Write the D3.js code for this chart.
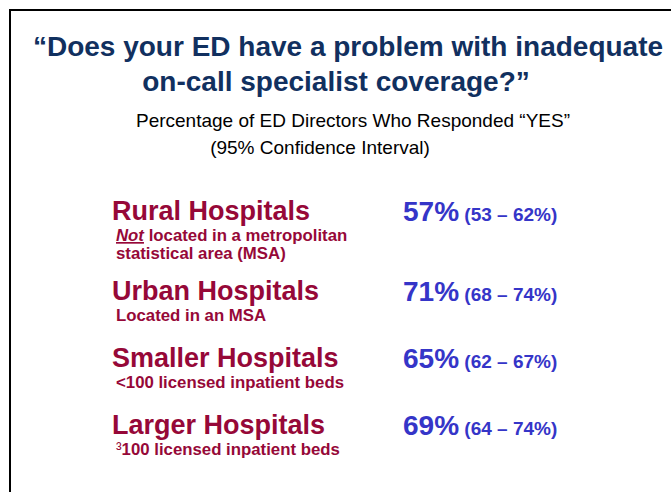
<!DOCTYPE html>
<html>
<head>
<meta charset="utf-8">
<script src="https://cdn.jsdelivr.net/npm/d3@7"></script>
<style>
  html, body { margin: 0; padding: 0; background: #fff; }
  svg { display: block; font-family: "Liberation Sans", Arial, Helvetica, sans-serif; }
</style>
</head>
<body>
<svg id="chart" width="671" height="492"></svg>
<script>
// ---- data ----
var titleLines = ["\u201CDoes your ED have a problem with inadequate", "on-call specialist coverage?\u201D"];
var subtitle = "Percentage of ED Directors Who Responded \u201CYES\u201D";
var ciNote = "(95% Confidence Interval)";

var categories = ["Rural Hospitals", "Urban Hospitals", "Smaller Hospitals", "Larger Hospitals"];
var descriptions = [
    [[{t: "Not", em: true}, {t: " located in a metropolitan"}], [{t: "statistical area (MSA)"}]],
    [[{t: "Located in an MSA"}]],
    [[{t: "<100 licensed inpatient beds"}]],
    [[{t: "\u00B3", sup: true}, {t: "100 licensed inpatient beds"}]]
];
var pctYes = [57, 71, 65, 69];
var ciLow  = [53, 68, 62, 64];
var ciHigh = [62, 74, 67, 74];

// ---- layout / style ----
var width = 671, height = 492
    , navy = "#11305f"
    , crimson = "#960838"
    , blue = "#3535c8"
    , labelX = 112
    , descX = 116
    , pctX = 403
    , firstRow = 220
    , rowPitch = 67
    , descLine = 13;

var svg = d3.select("#chart");

svg.append("rect").attr("width", width).attr("height", height).attr("fill", "#fff");

// slide frame (left + top edges visible)
svg.append("path")
    .attr("d", "M10," + height + "V10H" + width)
    .attr("fill", "none")
    .attr("stroke", "#000")
    .attr("stroke-width", 2);

// title
svg.selectAll("text.title")
    .data(titleLines)
    .enter().append("text")
    .attr("class", "title")
    .attr("x", function(d, i) { return i === 0 ? 348 : 336; })
    .attr("y", function(d, i) { return 56 + i * 35; })
    .attr("text-anchor", "middle")
    .attr("font-size", 28)
    .attr("font-weight", "bold")
    .attr("fill", navy)
    .text(function(d) { return d; });

svg.append("text")
    .attr("x", 353).attr("y", 127)
    .attr("text-anchor", "middle")
    .attr("font-size", 19)
    .attr("fill", "#000")
    .text(subtitle);

svg.append("text")
    .attr("x", 320).attr("y", 154)
    .attr("text-anchor", "middle")
    .attr("font-size", 19)
    .attr("fill", "#000")
    .text(ciNote);

// row baselines: extra description lines push the next row down
var rowY = [];
descriptions.reduce(function(y, d) {
    rowY.push(y);
    return y + rowPitch + descLine * (d.length - 1);
}, firstRow);

var y = d3.scaleOrdinal().domain(categories).range(rowY);

var rows = svg.selectAll("g.row")
    .data(categories.map(function(c, i) {
        return {cat: c, desc: descriptions[i], pct: pctYes[i], lo: ciLow[i], hi: ciHigh[i]};
    }))
    .enter().append("g")
    .attr("class", "row")
    .attr("transform", function(d) { return "translate(0," + y(d.cat) + ")"; });

rows.append("text")
    .attr("x", labelX)
    .attr("font-size", 27)
    .attr("font-weight", "bold")
    .attr("fill", crimson)
    .text(function(d) { return d.cat; });

var desc = rows.append("text")
    .attr("font-size", 16.8)
    .attr("font-weight", "bold")
    .attr("fill", crimson);

desc.selectAll("tspan.line")
    .data(function(d) { return d.desc; })
    .enter().append("tspan")
    .attr("class", "line")
    .attr("x", descX)
    .attr("y", function(d, i) { return 21 + i * 18; })
    .selectAll("tspan")
    .data(function(d) { return d; })
    .enter().append("tspan")
    .attr("font-style", function(d) { return d.em ? "italic" : null; })
    .attr("font-weight", function(d) { return d.sup ? "normal" : null; })
    .attr("text-decoration", function(d) { return d.em ? "underline" : null; })
    .text(function(d) { return d.t; });

var pct = rows.append("text")
    .attr("x", pctX)
    .attr("y", 1)
    .attr("font-weight", "bold")
    .attr("fill", blue);

pct.append("tspan")
    .attr("font-size", 28)
    .text(function(d) { return d.pct + "%"; });

pct.append("tspan")
    .attr("font-size", 19)
    .text(function(d) { return " (" + d.lo + " \u2013 " + d.hi + "%)"; });
</script>
</body>
</html>
